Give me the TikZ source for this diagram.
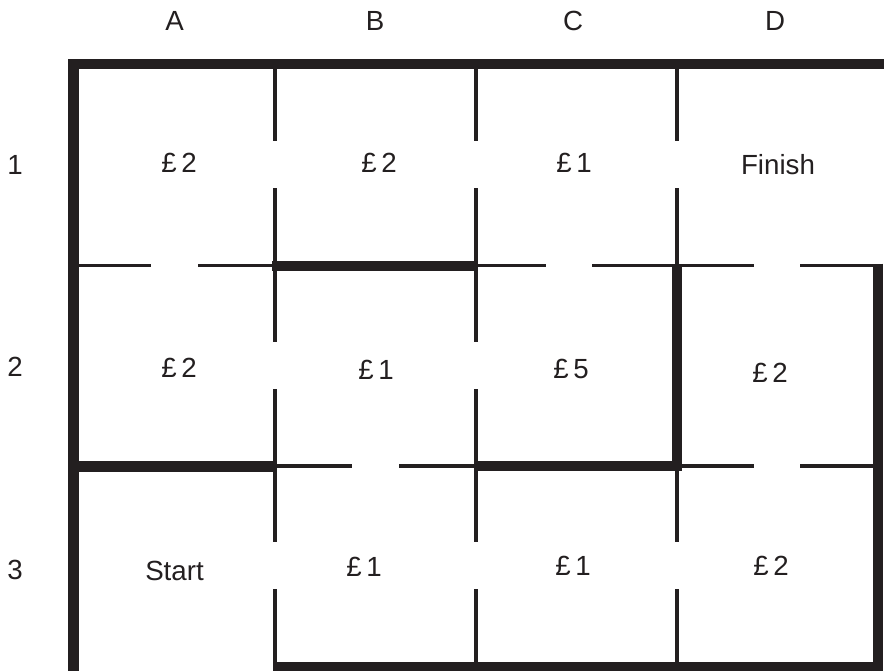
\documentclass[tikz,border=0pt]{standalone}
\usepackage{fontspec}
\setmainfont{Liberation Sans}
\definecolor{ink}{HTML}{231F20}
\begin{document}
\begin{tikzpicture}[x=1pt,y=-1pt,
  thinwall/.style={draw=ink,line width=3.4pt},
  thickwall/.style={draw=ink,line width=10.5pt,line join=miter},
  lbl/.style={inner sep=0pt,text=ink,font=\fontsize{27.7}{33}\selectfont,anchor=center}]
\useasboundingbox (0,0) rectangle (884,670);
% thin walls (vertical)
\draw[thinwall] (275,69)--(275,141) (275,188)--(275,342) (275,389)--(275,542) (275,589)--(275,662);
\draw[thinwall] (476,69)--(476,141) (476,188)--(476,342) (476,389)--(476,542) (476,589)--(476,662);
\draw[thinwall] (677,69)--(677,141) (677,188)--(677,265) (677,466)--(677,542) (677,589)--(677,662);
% thin walls (horizontal)
\draw[thinwall] (79,265.3)--(151,265.3) (198,265.3)--(275,265.3) (476,265.3)--(546,265.3) (592,265.3)--(754,265.3) (800,265.3)--(873,265.3);
\draw[thinwall] (275,466)--(352,466) (399,466)--(476,466) (677,466)--(754,466) (800,466)--(873,466);
% thick walls
\draw[thickwall] (884,63.8)--(73.7,63.8)--(73.7,675);
\draw[thickwall] (272,266)--(476,266);
\draw[thickwall] (73.7,466.7)--(274.5,466.7);
\draw[thickwall] (475,466)--(677,466)--(677,264);
\draw[thickwall] (878,263.5)--(878,667)--(273,667);
% headers
\node[lbl] (hA) at (174.5,21) {A};
\node[lbl] (hB) at (375,21) {B};
\node[lbl] (hC) at (573,21) {C};
\node[lbl] (hD) at (775,21) {D};
\node[lbl] (r1) at (15,165) {1};
\node[lbl] (r2) at (15,367) {2};
\node[lbl] (r3) at (15,570) {3};
% cells
\node[lbl] (a1) at (179,163) {£\,2};
\node[lbl] (b1) at (379,163) {£\,2};
\node[lbl] (c1) at (574,163) {£\,1};
\node[lbl] (d1) at (778,165) {Finish};
\node[lbl] (a2) at (179,368) {£\,2};
\node[lbl] (b2) at (376,370) {£\,1};
\node[lbl] (c2) at (571,369) {£\,5};
\node[lbl] (d2) at (770,373) {£\,2};
\node[lbl] (a3) at (174.5,570.5) {Start};
\node[lbl] (b3) at (364,567) {£\,1};
\node[lbl] (c3) at (573,566) {£\,1};
\node[lbl] (d3) at (771,566) {£\,2};
\end{tikzpicture}
\end{document}
